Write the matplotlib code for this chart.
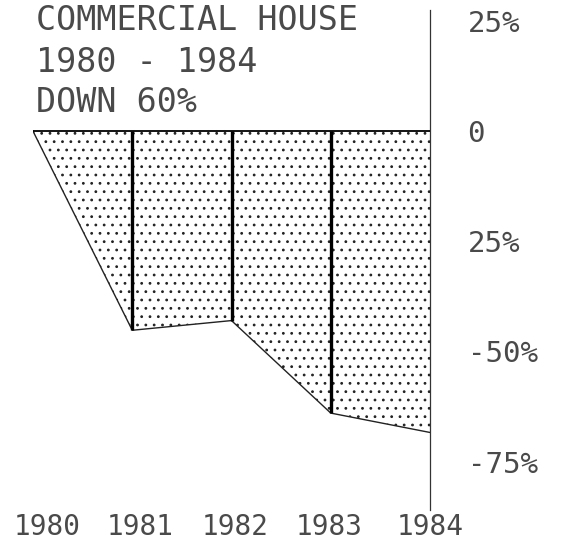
import matplotlib
matplotlib.use("Agg")
import matplotlib.pyplot as plt
from matplotlib.transforms import ScaledTranslation

# ---- data ----
years = [1980, 1981, 1982, 1983, 1984]
change_pct = [0.0, -45.2, -43.0, -64.0, -68.4]
divider_years = [1981, 1982, 1983]
ytick_values = [25, 0, -25, -50, -75]
ytick_labels = ["25%", "0", "25%", "-50%", "-75%"]
title_lines = ["COMMERCIAL HOUSE", "1980 - 1984", "DOWN 60%"]

W, H, DPI = 573, 546, 100
fig = plt.figure(figsize=(W / DPI, H / DPI), dpi=DPI)
fig.patch.set_facecolor("white")

FONT = "DejaVu Sans Mono"
TXT = "#4a4a4a"
plt.rcParams["hatch.linewidth"] = 0.8

# axes placement in pixels
x0, x1 = 33, 430
y_top, y_bot = 10, 510
ax = fig.add_axes([x0 / W, 1 - y_bot / H, (x1 - x0) / W, (y_bot - y_top) / H])
ax.set_xlim(1980, 1984)
ax.set_ylim(-86, 27.5)
ax.set_facecolor("none")

# stippled area
ax.fill_between(years, change_pct, 0, facecolor="white", edgecolor="#222222",
                hatch="..", linewidth=0, zorder=1)
ax.plot(years, change_pct, color="#222222", lw=1.0, zorder=3)

# divider lines
vals = dict(zip(years, change_pct))
for yr in divider_years:
    ax.plot([yr, yr], [0, vals[yr]], color="black", lw=2.4, zorder=4,
            solid_capstyle="butt")

# zero line
ax.axhline(0, color="black", lw=1.3, zorder=4)

# spines
for s in ["left", "top", "bottom"]:
    ax.spines[s].set_visible(False)
ax.spines["right"].set_color("#333333")
ax.spines["right"].set_linewidth(0.9)

# y ticks on right
ax.yaxis.tick_right()
ax.set_yticks(ytick_values)
ax.set_yticklabels(ytick_labels, fontfamily=FONT, fontsize=21, color=TXT)
ax.tick_params(axis="y", length=0, pad=27)
for lab in ax.get_yticklabels():
    lab.set_horizontalalignment("left")

# x tick labels (printer spacing: slightly shifted toward the right)
ax.set_xticks(years)
ax.set_xticklabels([str(y) for y in years], fontfamily=FONT, fontsize=20,
                   color=TXT)
ax.tick_params(axis="x", length=0, pad=2)
shifts_px = [14, 8, 4, -2, 0]
for lab, dx in zip(ax.get_xticklabels(), shifts_px):
    lab.set_transform(lab.get_transform() +
                      ScaledTranslation(dx / DPI, 0, fig.dpi_scale_trans))

# title block
for i, line in enumerate(title_lines):
    fig.text(36 / W, 1 - (21 + 41 * i) / H, line, fontfamily=FONT,
             fontsize=24, color=TXT, ha="left", va="center")

fig.savefig("out.png", dpi=DPI, facecolor="white")
